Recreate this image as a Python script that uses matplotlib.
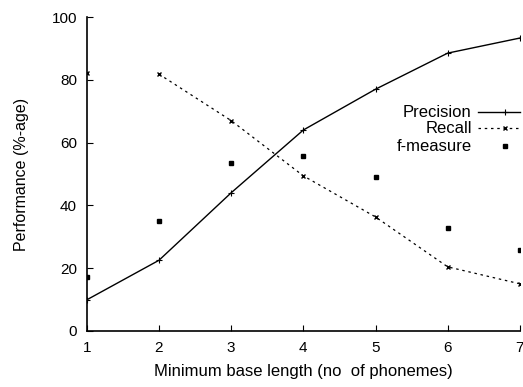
import matplotlib
matplotlib.use("Agg")
import matplotlib.pyplot as plt
from matplotlib.lines import Line2D

plt.rcParams['font.family'] = ['Liberation Sans', 'DejaVu Sans']

base_length = [1, 2, 3, 4, 5, 6, 7]
precision = [9.9, 22.5, 44, 64, 77, 88.5, 93.3]
recall = [82.3, 81.8, 67, 49.4, 36.3, 20.4, 15]
f_measure = [17.2, 35, 53.5, 55.7, 49, 32.8, 25.8]

fig = plt.figure(figsize=(5.23, 3.87), dpi=100)
ax = fig.add_axes([0.166, 0.145, 0.828, 0.811])

prec_style = dict(color='black', linewidth=1.0, marker='+',
                  markersize=4, markeredgewidth=0.8)
rec_style = dict(color='black', linewidth=0.9, linestyle=(0, (2, 3)),
                 marker='x', markersize=3, markeredgewidth=1.0)
f_style = dict(color='black', linestyle='none', marker='s', markersize=2.5)

ax.plot(base_length, precision, **prec_style)
# recall dashes start at 2, the first value only gets its marker
ax.plot(base_length[1:], recall[1:], **rec_style)
ax.plot(base_length[:1], recall[:1], color='black', linestyle='none',
        marker='x', markersize=3, markeredgewidth=1.0)
ax.plot(base_length, f_measure, **f_style)

ax.set_xlim(1, 7)
ax.set_ylim(0, 100)
ax.set_xticks(base_length)
ax.set_yticks([0, 20, 40, 60, 80, 100])
ax.tick_params(direction='in', length=4, width=0.8, labelsize=11, pad=7)
for side in ['top', 'right']:
    ax.spines[side].set_visible(False)
for side in ['left', 'bottom']:
    ax.spines[side].set_linewidth(1.2)

ax.set_xlabel('Minimum base length (no  of phonemes)', fontsize=12, labelpad=7)
ax.set_ylabel('Performance (%-age)', fontsize=11.5, labelpad=16)

# gnuplot-style key: right-aligned text, sample to the right
key = [('Precision', prec_style, 0.697),
       ('Recall', rec_style, 0.646),
       ('f-measure', f_style, 0.589)]
for name, style, ky in key:
    ax.text(0.889, ky, name, transform=ax.transAxes, ha='right',
            va='center', fontsize=12)
    line_style = dict(style)
    mark = line_style.pop('marker')
    msize = line_style.pop('markersize')
    medge = line_style.pop('markeredgewidth', 1.0)
    if line_style.get('linestyle') != 'none':
        ax.add_line(Line2D([0.903, 1.0], [ky, ky], transform=ax.transAxes,
                           clip_on=False, **line_style))
    ax.add_line(Line2D([0.965], [ky], transform=ax.transAxes,
                       clip_on=False, color='black', linestyle='none',
                       marker=mark, markersize=msize, markeredgewidth=medge))

fig.savefig('out.png', dpi=100)
